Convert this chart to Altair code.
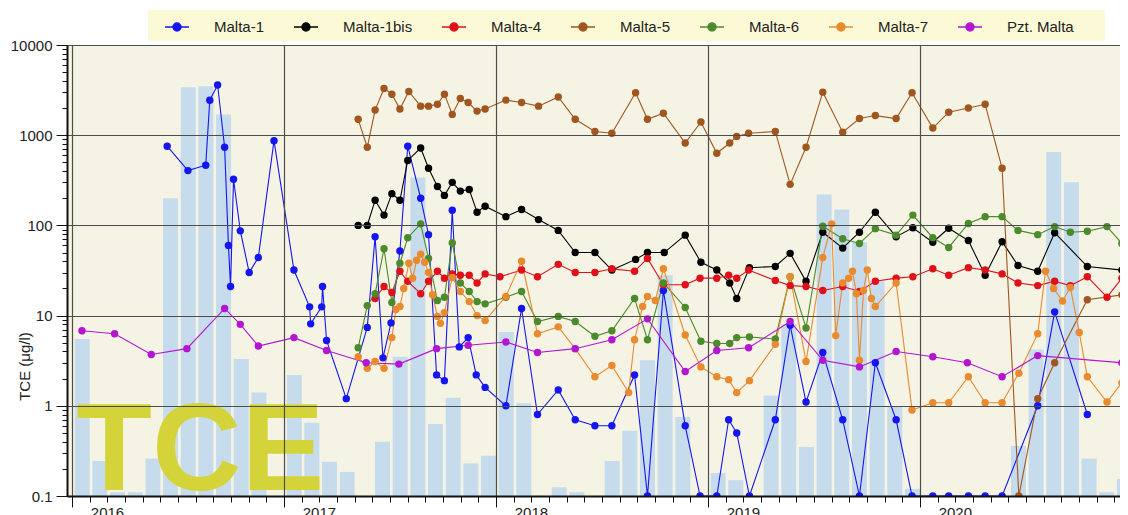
import altair as alt
import pandas as pd

# ---------------- data ----------------
series_names = ["Malta-1", "Malta-1bis", "Malta-4", "Malta-5", "Malta-6", "Malta-7", "Pzt. Malta"]
series_colors = ["#1515f0", "#000000", "#e0101a", "#a0561e", "#4b8b2b", "#e98a2e", "#b315d0"]

# sampling times as decimal years
malta1_t = [2016.449, 2016.547, 2016.631, 2016.650, 2016.687, 2016.720, 2016.738, 2016.748, 2016.762, 2016.794,
            2016.836, 2016.879, 2016.953, 2017.047, 2017.121, 2017.126, 2017.178, 2017.182, 2017.201, 2017.294,
            2017.393, 2017.430, 2017.467, 2017.505, 2017.547, 2017.584, 2017.645, 2017.682, 2017.720, 2017.757,
            2017.794, 2017.827, 2017.869, 2017.907, 2017.949, 2018.047, 2018.121, 2018.196, 2018.294, 2018.374,
            2018.467, 2018.547, 2018.654, 2018.715, 2018.790, 2018.893, 2018.963, 2019.042, 2019.098, 2019.136,
            2019.196, 2019.318, 2019.388, 2019.463, 2019.542, 2019.636, 2019.715, 2019.790, 2019.888, 2019.963,
            2020.061, 2020.136, 2020.229, 2020.308, 2020.388, 2020.556, 2020.636, 2020.790]
malta1_v = [755, 405, 465, 2440, 3600, 735, 60, 21, 325, 87,
            30, 44, 870, 32, 12.5, 8.1, 12.5, 21, 5.3, 1.2,
            7.4, 75, 3.4, 8.3, 52, 755, 200, 79, 2.2, 1.9,
            147, 4.5, 5.7, 2.2, 1.6, 1.0, 12, 0.8, 1.5, 0.7,
            0.6, 0.6, 2.2, 0.1, 19, 0.6, 0.1, 0.1, 0.7, 0.5,
            0.1, 0.7, 7.8, 1.1, 3.9, 0.7, 0.1, 3.0, 0.7, 0.1,
            0.1, 0.1, 0.1, 0.1, 0.1, 1.0, 11, 0.8]

malta1bis_t = [2017.350, 2017.393, 2017.430, 2017.472, 2017.509, 2017.547, 2017.584, 2017.645, 2017.682, 2017.724,
               2017.757, 2017.794, 2017.832, 2017.874, 2017.911, 2017.949, 2018.047, 2018.121, 2018.201, 2018.294,
               2018.374, 2018.467, 2018.547, 2018.659, 2018.715, 2018.794, 2018.893, 2018.967, 2019.042, 2019.103,
               2019.136, 2019.196, 2019.318, 2019.388, 2019.463, 2019.542, 2019.636, 2019.715, 2019.790, 2019.888,
               2019.967, 2020.061, 2020.136, 2020.229, 2020.308, 2020.388, 2020.463, 2020.556, 2020.636, 2020.790,
               2020.953]
malta1bis_v = [100, 100, 190, 130, 225, 190, 525, 720, 430, 270,
               215, 300, 240, 250, 140, 163, 125, 150, 116, 88,
               50, 50, 32, 42, 50, 50, 78, 39, 32, 23,
               15.5, 34, 35, 49, 24, 84, 56, 84, 140, 75,
               94, 65, 93, 68, 28, 66, 36, 31, 83, 35,
               32]

malta4_t = [2017.430, 2017.472, 2017.509, 2017.547, 2017.584, 2017.645, 2017.682, 2017.724, 2017.757, 2017.794,
            2017.832, 2017.874, 2017.911, 2017.949, 2018.019, 2018.121, 2018.196, 2018.294, 2018.374, 2018.467,
            2018.547, 2018.654, 2018.715, 2018.790, 2018.893, 2018.963, 2019.042, 2019.098, 2019.136, 2019.192,
            2019.318, 2019.388, 2019.463, 2019.542, 2019.636, 2019.715, 2019.790, 2019.888, 2019.967, 2020.061,
            2020.136, 2020.229, 2020.308, 2020.388, 2020.463, 2020.556, 2020.636, 2020.710, 2020.790, 2020.883,
            2020.953]
malta4_v = [15.5, 21, 18, 31, 24, 17.5, 24, 31, 26, 29,
            28, 28, 23, 29, 27, 32, 27, 37, 30, 30,
            33, 31, 43, 22, 22, 26, 26, 28, 26, 32,
            24.5, 21.5, 21, 19, 21, 18.5, 24, 26, 27, 33,
            28, 34, 32, 29, 23, 21.5, 24, 21.5, 27, 16,
            26]

malta5_t = [2017.350, 2017.393, 2017.430, 2017.472, 2017.509, 2017.547, 2017.589, 2017.645, 2017.682, 2017.724,
            2017.757, 2017.794, 2017.832, 2017.869, 2017.911, 2017.949, 2018.047, 2018.121, 2018.201, 2018.294,
            2018.374, 2018.467, 2018.547, 2018.659, 2018.715, 2018.790, 2018.893, 2018.967, 2019.042, 2019.103,
            2019.136, 2019.192, 2019.318, 2019.388, 2019.463, 2019.542, 2019.636, 2019.715, 2019.790, 2019.888,
            2019.963, 2020.061, 2020.136, 2020.229, 2020.308, 2020.388, 2020.467, 2020.556, 2020.636, 2020.790,
            2020.953]
malta5_v = [1500, 735, 1900, 3300, 2850, 1950, 3050, 2100, 2100, 2200,
            2850, 1700, 2550, 2300, 1850, 1950, 2450, 2300, 2100, 2650,
            1500, 1100, 1050, 2950, 1500, 1750, 820, 1400, 630, 820,
            970, 1050, 1100, 285, 735, 3000, 1080, 1530, 1650, 1530,
            2950, 1200, 1800, 2000, 2200, 430, 0.1, 1.2, 3.0, 15,
            17]

malta6_t = [2017.350, 2017.393, 2017.430, 2017.472, 2017.509, 2017.547, 2017.584, 2017.645, 2017.682, 2017.724,
            2017.757, 2017.794, 2017.832, 2017.874, 2017.911, 2017.949, 2018.047, 2018.121, 2018.196, 2018.294,
            2018.374, 2018.467, 2018.547, 2018.654, 2018.715, 2018.790, 2018.893, 2018.967, 2019.042, 2019.103,
            2019.136, 2019.196, 2019.318, 2019.388, 2019.463, 2019.542, 2019.636, 2019.715, 2019.790, 2019.888,
            2019.967, 2020.061, 2020.136, 2020.229, 2020.308, 2020.388, 2020.463, 2020.556, 2020.636, 2020.710,
            2020.790, 2020.883, 2020.953]
malta6_v = [4.4, 12.9, 17.5, 55, 14, 38, 73, 104, 43, 14.7,
            16, 64, 23, 18.5, 14.3, 13.5, 16, 18.5, 8.6, 9.8,
            8.6, 5.9, 6.8, 15.5, 5.4, 23, 12.3, 5.2, 4.9, 4.9,
            5.7, 5.8, 5.5, 27, 7.3, 98, 71, 63, 92, 78,
            130, 73, 57, 105, 125, 125, 88, 79, 97, 84,
            86, 97, 63]

malta7_t = [2017.350, 2017.393, 2017.430, 2017.472, 2017.509, 2017.528, 2017.547, 2017.565, 2017.589, 2017.607,
            2017.626, 2017.645, 2017.664, 2017.682, 2017.701, 2017.724, 2017.738, 2017.757, 2017.794, 2017.832,
            2017.874, 2017.911, 2017.949, 2018.047, 2018.121, 2018.196, 2018.294, 2018.374, 2018.467, 2018.547,
            2018.626, 2018.654, 2018.692, 2018.715, 2018.752, 2018.790, 2018.893, 2018.967, 2019.042, 2019.098,
            2019.136, 2019.196, 2019.318, 2019.388, 2019.463, 2019.542, 2019.584, 2019.603, 2019.636, 2019.664,
            2019.682, 2019.701, 2019.715, 2019.734, 2019.752, 2019.771, 2019.790, 2019.888, 2019.963, 2020.061,
            2020.136, 2020.229, 2020.308, 2020.388, 2020.467, 2020.556, 2020.593, 2020.631, 2020.673, 2020.710,
            2020.752, 2020.790, 2020.883, 2020.953]
malta7_v = [3.5, 2.6, 3.1, 2.6, 5.7, 11.7, 12.6, 20, 38, 26,
            41, 48, 39, 30, 17, 9.8, 8.2, 10.8, 26.5, 18.5,
            14.3, 10, 8.8, 16.3, 40, 6.3, 7.5, 4.3, 2.1, 2.8,
            1.4, 5.4, 12.6, 16.3, 14.7, 33, 6.1, 2.7, 2.1, 1.95,
            1.4, 1.9, 4.8, 27, 3.1, 44, 104, 6, 23, 26,
            31, 17.5, 3.2, 19, 32, 15.5, 12.6, 23, 0.9, 1.08,
            1.08, 2.1, 1.08, 1.08, 2.3, 6.3, 31, 20, 14.5, 20.5,
            6.5, 2.1, 1.1, 1.8]

pzt_t = [2016.047, 2016.201, 2016.374, 2016.542, 2016.720, 2016.794, 2016.879, 2017.047, 2017.201, 2017.388,
         2017.542, 2017.720, 2017.869, 2018.047, 2018.196, 2018.374, 2018.547, 2018.715, 2018.893, 2019.042,
         2019.192, 2019.388, 2019.542, 2019.715, 2019.888, 2020.061, 2020.224, 2020.388, 2020.556, 2020.953]
pzt_v = [6.8, 6.3, 3.7, 4.3, 12, 8, 4.6, 5.7, 4.1, 3.0,
         2.9, 4.3, 4.7, 5.1, 3.9, 4.3, 5.4, 9.2, 2.4, 4.1,
         4.4, 8.6, 3.2, 2.7, 4.0, 3.5, 3.0, 2.1, 3.6, 3.0]

# monthly background bars, Jan 2016 .. Dec 2020 (None = no bar)
bar_values = [5.5, 0.245, 0.11, 0.11, 0.26, 200, 3400, 3500, 1700, 3.3, 1.4, None,
              2.2, 0.65, 0.24, 0.185, None, 0.4, 3.5, 340, 0.63, 1.23, 0.23, 0.28,
              6.6, 1.07, None, 0.125, 0.11, None, 0.245, 0.53, 3.2, 28, 0.75, None,
              0.18, 0.15, None, 1.3, 8, 0.35, 220, 150, 65, 24, 0.97, 0.12,
              None, None, None, None, None, 0.36, 4.2, 650, 300, 0.26, 0.11, 0.155]

year_ticks = [2016, 2017, 2018, 2019, 2020]
decade_ticks = [0.1, 1, 10, 100, 1000, 10000]

# ---------------- tables ----------------
series_data = {
    "Malta-1": (malta1_t, malta1_v),
    "Malta-1bis": (malta1bis_t, malta1bis_v),
    "Malta-4": (malta4_t, malta4_v),
    "Malta-5": (malta5_t, malta5_v),
    "Malta-6": (malta6_t, malta6_v),
    "Malta-7": (malta7_t, malta7_v),
    "Pzt. Malta": (pzt_t, pzt_v),
}
rows = []
for order, name in enumerate(series_names):
    ts, vs = series_data[name]
    for t, v in zip(ts, vs):
        rows.append({"s": name, "t": t, "v": v, "o": order})
df = pd.DataFrame(rows)

bar_rows = []
for m, v in enumerate(bar_values):
    if v is not None:
        bar_rows.append({"t": 2016 + (m + 0.58) / 12, "v": v})
bar_df = pd.DataFrame(bar_rows)

minor_x = [2016 + k / 12 for k in range(1, 60) if k % 12 != 0]
minor_y = [k * 10.0 ** e for e in range(-1, 4) for k in range(2, 10)]

# ---------------- chart ----------------
FONT = "Liberation Sans"
xscale = alt.Scale(domain=[2016, 2020.9206], nice=False, zero=False)
yscale = alt.Scale(type="log", domain=[0.1, 10000], nice=False)
color_scale = alt.Scale(domain=series_names, range=series_colors)

legend_sym = "M-1,0H1M0.34,0A0.34,0.34,0,1,1,-0.34,0A0.34,0.34,0,1,1,0.34,0Z"


def make_legend():
    return alt.Legend(orient="none", legendX=97, legendY=-31, direction="horizontal",
                      title=None, symbolType=legend_sym, symbolSize=576,
                      symbolStrokeWidth=1.3, symbolOpacity=1, labelFont=FONT, labelFontSize=15,
                      labelColor="#222", labelOffset=24, columnPadding=26, padding=0)


legend_box = alt.Chart(pd.DataFrame({"k": [0]})).mark_rect(color="#fcf9d6").encode(
    x=alt.value(81), x2=alt.value(1038), y=alt.value(-35), y2=alt.value(-4)
)

bars = alt.Chart(bar_df).transform_calculate(base="0.1").mark_bar(
    width=15, color="#c6dbec", clip=True
).encode(
    x=alt.X("t:Q", scale=xscale,
            axis=alt.Axis(orient="bottom", values=minor_x, tickSize=6, labels=False, grid=False,
                          domain=False, title=None, tickColor="#111", tickWidth=1, zindex=1)),
    y=alt.Y("v:Q", scale=yscale,
            axis=alt.Axis(orient="left", values=minor_y, tickSize=5, labels=False, grid=False,
                          domain=False, title=None, tickColor="#111", tickWidth=1, zindex=1)),
    y2="base:Q",
)

tce = alt.Chart(pd.DataFrame({"label": ["TCE"]})).mark_text(
    align="left", baseline="alphabetic", font=FONT, fontWeight="bold", fontSize=124, color="#d4d43a"
).encode(
    x=alt.XDatum(2016.02, type="quantitative", scale=xscale, axis=None),
    y=alt.YDatum(0.117, type="quantitative", scale=yscale, axis=None),
    text="label:N",
)

lines = alt.Chart(df).mark_line(strokeWidth=1.1, clip=True).encode(
    x=alt.X("t:Q", scale=xscale,
            axis=alt.Axis(orient="bottom", values=year_ticks, format="d", tickSize=11, grid=True,
                          gridColor="#4d4d4d", gridWidth=1.2, domain=True, domainColor="#111",
                          domainWidth=2, tickColor="#111", tickWidth=1, labelFont=FONT, labelFontSize=15,
                          labelColor="#222", labelOffset=35, labelPadding=-2, title=None, zindex=1)),
    y=alt.Y("v:Q", scale=yscale,
            axis=alt.Axis(orient="left", values=decade_ticks, labelExpr="format(datum.value, '~g')",
                          tickSize=11, grid=True, gridColor="#4d4d4d", gridWidth=1.2, domain=True,
                          domainColor="#111", domainWidth=2, tickColor="#111", tickWidth=1,
                          labelFont=FONT, labelFontSize=15, labelColor="#222", labelPadding=4,
                          title="TCE (μg/l)", titleFont=FONT, titleFontSize=15, titleFontWeight="normal",
                          titleColor="#222", titleX=-35, titleY=321, zindex=1)),
    color=alt.Color("s:N", scale=color_scale, sort=series_names, legend=make_legend()),
    order="t:Q",
)

points = alt.Chart(df).mark_point(filled=True, size=55, opacity=1, clip=True).encode(
    x=alt.X("t:Q", scale=xscale, axis=None),
    y=alt.Y("v:Q", scale=yscale, axis=None),
    color=alt.Color("s:N", scale=color_scale, sort=series_names, legend=make_legend()),
    order="o:Q",
)

chart = alt.layer(legend_box, bars, tce, lines, points).resolve_axis(
    x="independent", y="independent"
).properties(
    width=1053, height=451,
    autosize=alt.AutoSizeParams(type="none"),
    padding={"left": 59, "top": 37, "right": 0, "bottom": 24},
).configure_view(fill="#f5f4e4", strokeWidth=0)

chart.save("out.html", embed_options={"renderer": "svg", "actions": False})
